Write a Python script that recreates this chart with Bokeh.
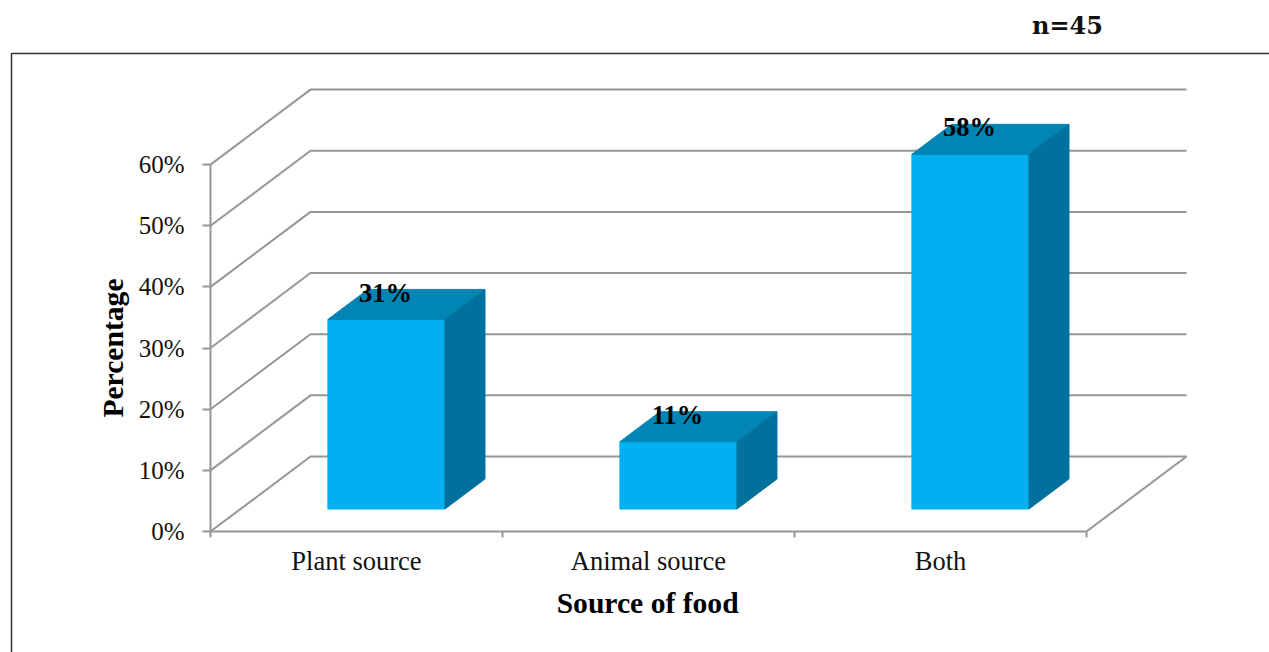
from math import pi

from bokeh.core.properties import value
from bokeh.embed import file_html
from bokeh.models import BoxAnnotation, FixedTicker, Label, PrintfTickFormatter, Range1d
from bokeh.plotting import figure
from bokeh.resources import INLINE

categories = ["Plant source", "Animal source", "Both"]
percentages = [31, 11, 58]
y_ticks = [0, 10, 20, 30, 40, 50, 60]
sample_note = "n=45"
x_title = "Source of food"
y_title = "Percentage"

SERIF = "Liberation Serif"
PX_PER_CAT = 292.0
PX_PER_PCT = 6.115
LEFT, BOTTOM = 210, 121
W, H = 1269, 652


def cat_x(px):
    """Page x in pixels to category units."""
    return (px - LEFT) / PX_PER_CAT


def pct_y(px):
    """Page y in pixels (from the top) to percentage units."""
    return (H - BOTTOM - px) / PX_PER_PCT


# oblique projection of the 3-D box, in data units
WALL_DX, WALL_DY = 100 / PX_PER_CAT, 75 / PX_PER_PCT
BAR_DX, BAR_DY = 40 / PX_PER_CAT, 30 / PX_PER_PCT
BAR_LEFT, BAR_WIDTH = 0.402, 0.401
BAR_BASE = 22.5 / PX_PER_PCT

GRID = "#969696"
FRONT, TOP, SIDE = "#00b0f0", "#0085b5", "#00719c"

# the frame fills the page; the axes are pinned inside it at the data origin
p = figure(
    width=W, height=H, output_backend="svg", toolbar_location=None,
    x_range=Range1d(cat_x(0), cat_x(W)),
    y_range=Range1d(pct_y(H), pct_y(0)),
    min_border_left=0, min_border_bottom=0, min_border_top=0, min_border_right=0,
    outline_line_color=None, background_fill_color="white", border_fill_color="white",
)
p.grid.visible = False

n = len(categories)
xa, ya = p.xaxis[0], p.yaxis[0]
xa.fixed_location = 0
xa.bounds = (0, n)
xa.ticker = FixedTicker(ticks=[i + 0.5 for i in range(n)], minor_ticks=list(range(n + 1)))
xa.major_label_overrides = {i + 0.5: c for i, c in enumerate(categories)}
xa.major_tick_line_color = None
xa.major_tick_in, xa.major_tick_out = 0, 0
xa.minor_tick_in, xa.minor_tick_out = 0, 6
xa.minor_tick_line_color = GRID
xa.minor_tick_line_width = 2
xa.major_label_standoff = 8
xa.major_label_text_font_size = "26.5px"

ya.fixed_location = 0
ya.bounds = (0, 60)
ya.ticker = FixedTicker(ticks=y_ticks)
ya.formatter = PrintfTickFormatter(format="%d%%")
ya.major_tick_in, ya.major_tick_out = 0, 8
ya.minor_tick_line_color = None
ya.major_tick_line_color = GRID
ya.major_tick_line_width = 2
ya.major_label_standoff = 18
ya.major_label_text_font_size = "25px"

for ax in (xa, ya):
    ax.axis_line_color = GRID
    ax.axis_line_width = 2
    ax.major_label_text_font = SERIF
    ax.major_label_text_color = "#111111"

# axis titles, centred on the axis spans
for text, x, y, angle in (
    (x_title, n / 2 - 0.003, pct_y(602), 0),
    (y_title, cat_x(112), 30, pi / 2),
):
    p.add_layout(Label(
        x=x, y=y, text=text, angle=angle, text_font=SERIF, text_font_style="bold",
        text_font_size="29.6px", text_color="black", text_align="center", text_baseline="middle",
    ))

# wall and floor lines
for v in y_ticks:
    p.line([0, WALL_DX, n + WALL_DX], [v, v + WALL_DY, v + WALL_DY], line_color=GRID, line_width=2)
p.line([n, n + WALL_DX], [0, WALL_DY], line_color=GRID, line_width=2)

# bars: front, top and side faces
for i, v in enumerate(percentages):
    x0, x1 = i + BAR_LEFT, i + BAR_LEFT + BAR_WIDTH
    y0, y1 = BAR_BASE, BAR_BASE + v
    p.patch([x0, x1, x1, x0], [y0, y0, y1, y1], fill_color=FRONT, line_color=FRONT, line_width=1)
    p.patch([x0, x1, x1 + BAR_DX, x0 + BAR_DX], [y1, y1, y1 + BAR_DY, y1 + BAR_DY],
            fill_color=TOP, line_color=TOP, line_width=1)
    p.patch([x1, x1 + BAR_DX, x1 + BAR_DX, x1], [y0, y0 + BAR_DY, y1 + BAR_DY, y1],
            fill_color=SIDE, line_color=SIDE, line_width=1)

# value labels
p.text(
    x=[i + BAR_LEFT + BAR_WIDTH / 2 - 0.003 for i in range(n)],
    y=[BAR_BASE + v + 4.4 for v in percentages],
    text=[f"{v}%" for v in percentages],
    text_font=value(SERIF), text_font_style="bold", text_font_size="26.5px",
    text_color="black", text_align="center", text_baseline="middle",
)

# sample size above the chart box
p.add_layout(Label(
    x=cat_x(1067), y=pct_y(25), text=sample_note, text_font="DejaVu Serif", text_font_style="bold",
    text_font_size="24px", text_color="#111111", text_align="center", text_baseline="middle",
))

# chart box, running past the page's right and bottom edges
p.add_layout(BoxAnnotation(
    left=cat_x(11), right=cat_x(W + 20), top=pct_y(53), bottom=pct_y(H + 20),
    fill_color=None, line_color="#333333", line_alpha=1, line_width=1.5,
    level="underlay", editable=False,
))

open("out.html", "w").write(file_html(p, INLINE))
